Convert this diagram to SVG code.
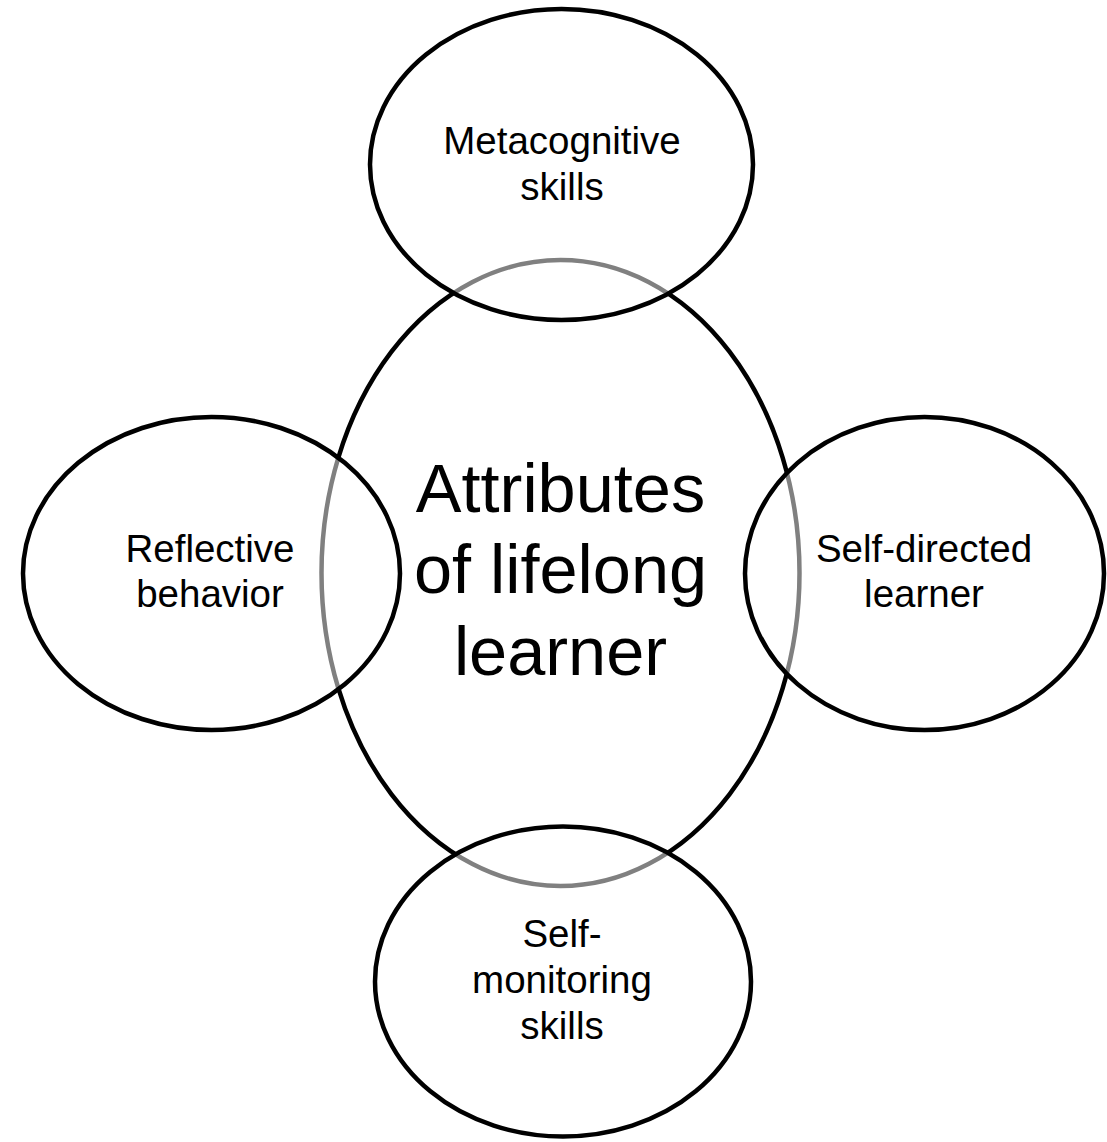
<svg xmlns="http://www.w3.org/2000/svg" width="1107" height="1142" viewBox="0 0 1107 1142">
<style>
.c{fill:#fff;stroke:#000;stroke-width:4.5}
.o{fill:#fff;fill-opacity:0.5;stroke:#000;stroke-width:4.5}
.t{font-family:"Liberation Sans",Arial,sans-serif;font-size:38.5px;fill:#000;text-anchor:middle}
.big{font-family:"Liberation Sans",Arial,sans-serif;font-size:68.5px;fill:#000;text-anchor:middle}
</style>
<rect width="1107" height="1142" fill="#fff"/>
<g id="center">
<ellipse class="c" cx="560.5" cy="573" rx="239" ry="313"/>
</g>
<g id="top">
<ellipse class="o" cx="561.5" cy="164.5" rx="191.5" ry="155.5"/>
<text class="t" x="562" y="154">Metacognitive</text>
<text class="t" x="562" y="200">skills</text>
</g>
<g id="left">
<ellipse class="o" cx="211.5" cy="573.5" rx="188.5" ry="156.5"/>
<text class="t" x="210" y="562">Reflective</text>
<text class="t" x="210" y="607">behavior</text>
</g>
<g id="right">
<ellipse class="o" cx="924.5" cy="573.5" rx="179.5" ry="156.5"/>
<text class="t" x="924" y="562">Self-directed</text>
<text class="t" x="924" y="607">learner</text>
</g>
<g id="bottom">
<ellipse class="o" cx="563" cy="981.5" rx="188" ry="155"/>
<text class="t" x="562" y="947">Self-</text>
<text class="t" x="562" y="993">monitoring</text>
<text class="t" x="562" y="1039">skills</text>
</g>
<g id="center-label">
<text class="big" x="560.5" y="512">Attributes</text>
<text class="big" x="560.5" y="593">of lifelong</text>
<text class="big" x="560.5" y="675">learner</text>
</g>
<g id="connectors"></g>
</svg>
